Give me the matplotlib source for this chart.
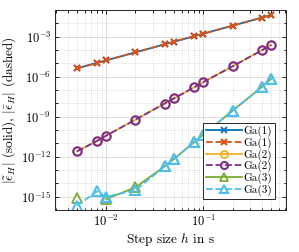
import numpy as np
import matplotlib
matplotlib.use('Agg')
import matplotlib.pyplot as plt
from matplotlib.ticker import NullFormatter

plt.rcParams['font.family'] = 'serif'
plt.rcParams['font.serif'] = ['cmr10', 'DejaVu Serif']
plt.rcParams['mathtext.fontset'] = 'cm'
plt.rcParams['axes.formatter.use_mathtext'] = True
plt.rcParams['font.size'] = 9

# step sizes
h = [0.005, 0.008, 0.01, 0.02, 0.04, 0.05, 0.08, 0.1, 0.2, 0.4, 0.5]

# errors (solid = tilde, dashed = bar)
ga1_solid = [4.2e-6, 1.07e-5, 1.67e-5, 6.7e-5, 2.67e-4, 4.2e-4, 1.07e-3, 1.67e-3, 6.7e-3, 2.67e-2, 4.2e-2]
ga1_dash = [4.2e-6, 1.07e-5, 1.67e-5, 6.7e-5, 2.67e-4, 4.2e-4, 1.07e-3, 1.67e-3, 6.7e-3, 2.67e-2, 4.2e-2]
ga2_solid = [2.5e-12, 1.5e-11, 3.8e-11, 6.0e-10, 9.7e-9, 2.4e-8, 1.55e-7, 3.9e-7, 6.0e-6, 9.5e-5, 2.4e-4]
ga2_dash = [2.5e-12, 1.5e-11, 3.8e-11, 6.0e-10, 9.7e-9, 2.4e-8, 1.55e-7, 3.9e-7, 6.0e-6, 9.5e-5, 2.4e-4]
ga3_solid = [8e-16, np.nan, 6.7e-16, 5e-15, 1.9e-13, 6.8e-13, 1.2e-11, 4.5e-11, 2.8e-9, 1.66e-7, 7e-7]
ga3_dash = [2.1e-16, 2.5e-15, 1.0e-15, 3.0e-15, 1.9e-13, 6.8e-13, 1.2e-11, 4.5e-11, 2.8e-9, 1.66e-7, 7e-7]

fig = plt.figure(figsize=(2.99, 2.52), dpi=100)
ax = fig.add_axes([55.5/299, 42/252, 230.5/299, 200/252])

lw = 1.3
ax.plot(h, ga1_solid, '-', color='#0072BD', marker='x', ms=5, mew=1.3, lw=lw, label='Ga(1)')
ax.plot(h, ga1_dash, '--', color='#D95319', marker='x', ms=5, mew=1.5, lw=lw, label='Ga(1)')
ax.plot(h, ga2_solid, '-', color='#EDB120', marker='o', ms=6, mfc='none', mew=1.3, lw=lw, label='Ga(2)')
ax.plot(h, ga2_dash, '--', color='#7E2F8E', marker='o', ms=6, mfc='none', mew=1.5, lw=lw, label='Ga(2)')
ax.plot(h, ga3_solid, '-', color='#77AC30', marker='^', ms=6.5, mfc='none', mew=1.3, lw=lw, label='Ga(3)')
ax.plot(h, ga3_dash, '--', color='#4DBEEE', marker='^', ms=7, mfc='none', mew=1.5, lw=lw, label='Ga(3)')

ax.set_xscale('log')
ax.set_yscale('log')
ax.set_xlim(0.003, 0.71)
ax.set_ylim(1e-16, 1e-1)

ax.set_yticks([1e-15, 1e-12, 1e-9, 1e-6, 1e-3])
ax.set_yticks([10.0 ** k for k in range(-16, 0)], minor=True)
ax.yaxis.set_minor_formatter(NullFormatter())
ax.xaxis.set_minor_formatter(NullFormatter())

ax.grid(True, which='major', color='#d9d9d9', lw=0.6, ls='-')
ax.grid(True, which='minor', color='#cfcfcf', lw=0.6, ls=':')
ax.tick_params(which='both', direction='in', top=True, right=True, width=0.6)
ax.tick_params(which='major', length=3, labelsize=9, pad=3)
ax.tick_params(which='minor', length=1.8)
for s in ax.spines.values():
    s.set_linewidth(0.7)
    s.set_color('#262626')

ax.set_xlabel('Step size $h$ in s', fontsize=9.5, labelpad=1)
ax.set_ylabel(r'$|\tilde{\epsilon}_H|$ (solid), $|\bar{\epsilon}_H|$ (dashed)', fontsize=9.5, labelpad=2)

leg = ax.legend(loc='lower right', fontsize=8, handlelength=3.2, handletextpad=0.15,
                labelspacing=0.05, borderpad=0.25, fancybox=False, edgecolor='#262626',
                framealpha=1, borderaxespad=1.0, markerscale=0.85)
leg.get_frame().set_linewidth(0.7)

fig.savefig('out.png', dpi=100)
